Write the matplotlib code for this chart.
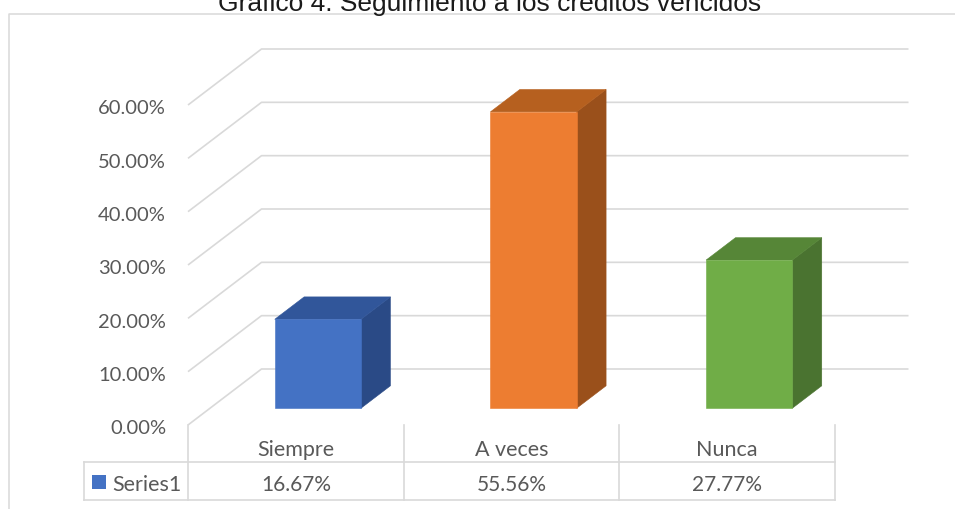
import matplotlib
matplotlib.use('Agg')
import matplotlib.pyplot as plt
from matplotlib.patches import Polygon, Rectangle

# ---------------- data ----------------
title = 'Gráfico 4. Seguimiento a los créditos vencidos'
categories = ['Siempre', 'A veces', 'Nunca']
values = [16.67, 55.56, 27.77]
value_labels = ['16.67%', '55.56%', '27.77%']
series_name = 'Series1'
ticks = [0, 10, 20, 30, 40, 50, 60]
tick_labels = ['0.00%', '10.00%', '20.00%', '30.00%', '40.00%', '50.00%', '60.00%']

# ---------------- style ----------------
front_colors = ['#4472C4', '#ED7D31', '#70AD47']
top_colors = ['#31569A', '#B6601F', '#568637']
side_colors = ['#2A4A86', '#9A501B', '#4A7330']
grid_color = '#D9D9D9'
text_color = '#595959'
label_font = ['Lato', 'DejaVu Sans']
num_size = 14.5
word_size = 15.5

# ---------------- layout (pixels) ----------------
W, H = 955, 510
FLOOR_LEFT, FLOOR_RIGHT = 188, 835
ZERO_Y = 426
PX_PER_PCT = 320 / 60
DEPTH_PX = (73.5, 56)

fig = plt.figure(figsize=(W / 100, H / 100), dpi=100)
ax = fig.add_axes([0, 0, 1, 1])
ax.set_axis_off()

n = len(categories)
ppc = (FLOOR_RIGHT - FLOOR_LEFT) / n
ax.set_xlim(-FLOOR_LEFT / ppc, (W - FLOOR_LEFT) / ppc)
ax.set_ylim(-(H - ZERO_Y) / PX_PER_PCT, ZERO_Y / PX_PER_PCT)


def px(xp, yp):
    return (xp - FLOOR_LEFT) / ppc, (ZERO_Y - yp) / PX_PER_PCT


DX = DEPTH_PX[0] / ppc
DY = DEPTH_PX[1] / PX_PER_PCT

# chart border
bx, by = px(9, 14.7)
_, ybot = px(0, H + 5)
xr, _ = px(W + 5, 0)
ax.plot([bx, bx, xr], [ybot, by, by], color=grid_color, lw=1.1, zorder=0,
        clip_on=False)

# title (cut at the top edge, as in the reference)
tx, ty = px(490, 11)
ax.text(tx, ty, title, ha='center', va='baseline', fontsize=19,
        family=['Liberation Sans', 'DejaVu Sans'], color='#1a1a1a', zorder=0)

# gridlines (floor diagonal + back wall)
for t in ticks:
    ax.plot([0, DX, n + DX], [t, t + DY, t + DY], color=grid_color, lw=1.2,
            solid_capstyle='butt', zorder=1)

# tick labels
lx, _ = px(166, 0)
for t, lab in zip(ticks, tick_labels):
    ax.text(lx, t - 3 / PX_PER_PCT, lab, ha='right', va='center',
            fontsize=num_size, family=label_font, color=text_color)

# 3D bars
d0, d1 = 0.3, 0.7
bw = 0.4
for i, v in enumerate(values):
    xl = i + 0.5 - bw / 2
    xr_ = i + 0.5 + bw / 2
    fx0, fy0 = d0 * DX, d0 * DY
    bx1, by1 = d1 * DX, d1 * DY
    side = [(xr_ + fx0, fy0), (xr_ + bx1, by1), (xr_ + bx1, v + by1), (xr_ + fx0, v + fy0)]
    top = [(xl + fx0, v + fy0), (xr_ + fx0, v + fy0), (xr_ + bx1, v + by1), (xl + bx1, v + by1)]
    front = [(xl + fx0, fy0), (xr_ + fx0, fy0), (xr_ + fx0, v + fy0), (xl + fx0, v + fy0)]
    for poly, col in ((side, side_colors[i]), (top, top_colors[i]), (front, front_colors[i])):
        ax.add_patch(Polygon(poly, closed=True, facecolor=col, edgecolor=col,
                             lw=0.4, zorder=3))

# data table
_, row1 = px(0, 463)
_, row2 = px(0, 501)
tleft, _ = px(84, 0)
for j in range(n + 1):
    ax.plot([j, j], [0, row2], color=grid_color, lw=1.2, zorder=1)
for yy in (row1, row2):
    ax.plot([tleft, n], [yy, yy], color=grid_color, lw=1.2, zorder=1)
ax.plot([tleft, tleft], [row1, row2], color=grid_color, lw=1.2, zorder=1)

_, cat_y = px(0, 456.5)
_, val_y = px(0, 491)
for i, (c, vl) in enumerate(zip(categories, value_labels)):
    ax.text(i + 0.5, cat_y, c, ha='center', va='baseline', fontsize=word_size,
            family=label_font, color=text_color)
    ax.text(i + 0.5, val_y, vl, ha='center', va='baseline', fontsize=num_size + 0.5,
            family=label_font, color=text_color)

# legend key + series name
sx0, sy0 = px(92.3, 490)
sx1, sy1 = px(106, 476)
ax.add_patch(Rectangle((sx0, sy0), sx1 - sx0, sy1 - sy0, facecolor=front_colors[0],
                       edgecolor='none', zorder=3))
nx, _ = px(112, 0)
ax.text(nx, val_y, series_name, ha='left', va='baseline', fontsize=word_size,
        family=label_font, color=text_color)

fig.savefig('out.png', dpi=100)
